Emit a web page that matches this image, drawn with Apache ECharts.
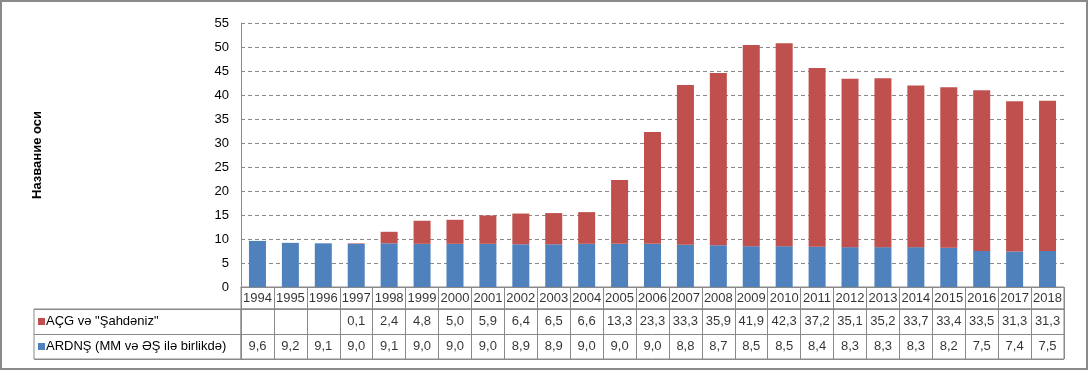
<!DOCTYPE html>
<html>
<head>
<meta charset="utf-8">
<script src="https://cdn.jsdelivr.net/npm/echarts@6/dist/echarts.min.js"></script>
<style>
html,body{margin:0;padding:0;background:#fff;}
#wrap{position:relative;width:1088px;height:371px;}
#chart{position:absolute;left:0;top:0;width:1088px;height:371px;}
#frame{position:absolute;left:0;top:0;width:1088px;height:370px;box-sizing:border-box;border:2px solid #898989;pointer-events:none;}
</style>
</head>
<body>
<div id="wrap"><div id="chart"></div><div id="frame"></div></div>
<script>
const years = ['1994','1995','1996','1997','1998','1999','2000','2001','2002','2003','2004','2005','2006','2007','2008','2009','2010','2011','2012','2013','2014','2015','2016','2017','2018'];
const acgValues = [null,null,null,0.1,2.4,4.8,5.0,5.9,6.4,6.5,6.6,13.3,23.3,33.3,35.9,41.9,42.3,37.2,35.1,35.2,33.7,33.4,33.5,31.3,31.3];
const ardnsValues = [9.6,9.2,9.1,9.0,9.1,9.0,9.0,9.0,8.9,8.9,9.0,9.0,9.0,8.8,8.7,8.5,8.5,8.4,8.3,8.3,8.3,8.2,7.5,7.4,7.5];
const acgName = 'AÇG və "Şahdəniz"';
const ardnsName = 'ARDNŞ (MM və ƏŞ ilə birlikdə)';
const yMin = 0, yMax = 55, yStep = 5;
const axisTitle = 'Название оси';

const BLUE = '#4F81BD', RED = '#C0504D', GRAY = '#898989';
const FONT = 'Liberation Sans';
const fmt = v => (v == null ? '' : v.toFixed(1).replace('.', ','));

const yearCells = years.map((y, i) => ({ value: [i, 'year'], txt: y }));
const valueCells = [];
years.forEach((y, i) => {
  valueCells.push({ value: [i, 'acg'], txt: fmt(acgValues[i]) });
  valueCells.push({ value: [i, 'ardns'], txt: fmt(ardnsValues[i]) });
});

const tableGrid = (extra) => Object.assign({ show: true, borderColor: GRAY, borderWidth: 1, outerBoundsMode: 'none', containLabel: false }, extra);
const colAxis = (gi) => ({ gridIndex: gi, type: 'category', data: years, axisLine: { show: false }, axisTick: { show: false, interval: 0 }, axisLabel: { show: false, interval: 0 }, splitLine: { show: true, interval: 0, lineStyle: { color: GRAY, width: 1 } } });
const cellLabel = { show: true, position: 'inside', color: '#000', fontSize: 13, fontFamily: FONT, formatter: p => p.data.txt };

const chart = echarts.init(document.getElementById('chart'), null, { renderer: 'canvas' });
chart.setOption({
  animation: false,
  textStyle: { fontFamily: FONT },
  grid: [
    { left: 241, right: 24, top: 23, height: 264, outerBoundsMode: 'none', containLabel: false },
    tableGrid({ left: 241, right: 24, top: 287, height: 22 }),
    tableGrid({ left: 241, right: 24, top: 309, height: 50 }),
    tableGrid({ left: 34, width: 207, top: 309, height: 50 })
  ],
  xAxis: [
    { gridIndex: 0, type: 'category', data: years, axisLine: { show: true, lineStyle: { color: GRAY } }, axisTick: { show: false }, axisLabel: { show: false }, splitLine: { show: false } },
    colAxis(1),
    colAxis(2),
    { gridIndex: 3, type: 'value', show: false, splitLine: { show: false } }
  ],
  yAxis: [
    { gridIndex: 0, type: 'value', min: yMin, max: yMax, interval: yStep,
      axisLine: { show: true, lineStyle: { color: GRAY } }, axisTick: { show: false },
      axisLabel: { color: '#000', fontSize: 13, margin: 12, fontFamily: FONT },
      splitLine: { show: true, lineStyle: { color: GRAY, type: [4, 3], width: 1 } },
      name: axisTitle, nameLocation: 'middle', nameGap: 197,
      nameTextStyle: { color: '#000', fontSize: 13, fontWeight: 'bold', fontFamily: FONT } },
    { gridIndex: 1, type: 'category', data: ['year'], axisLine: { show: false }, axisTick: { show: false }, axisLabel: { show: false }, splitLine: { show: false } },
    { gridIndex: 2, type: 'category', data: ['acg', 'ardns'], inverse: true, axisLine: { show: false }, axisTick: { show: false }, axisLabel: { show: false }, splitLine: { show: true, interval: 0, lineStyle: { color: GRAY, width: 1 } } },
    { gridIndex: 3, type: 'category', data: [acgName, ardnsName], inverse: true, axisLine: { show: false }, axisTick: { show: false },
      splitLine: { show: true, interval: 0, lineStyle: { color: GRAY, width: 1 } },
      axisLabel: { inside: true, interval: 0, margin: 4, align: 'left',
        formatter: (v, i) => (i === 0 ? '{r|}' : '{b|}') + '{t|' + v + '}',
        rich: {
          r: { width: 7, height: 7, backgroundColor: RED },
          b: { width: 7, height: 7, backgroundColor: BLUE },
          t: { fontSize: 13, color: '#000', fontFamily: FONT, padding: [0, 0, 0, 1] }
        } } }
  ],
  series: [
    { name: ardnsName, type: 'bar', stack: 'total', xAxisIndex: 0, yAxisIndex: 0, data: ardnsValues, barWidth: 17, itemStyle: { color: BLUE } },
    { name: acgName, type: 'bar', stack: 'total', xAxisIndex: 0, yAxisIndex: 0, data: acgValues, barWidth: 17, itemStyle: { color: RED } },
    { type: 'scatter', xAxisIndex: 1, yAxisIndex: 1, symbolSize: 0, data: yearCells, silent: true, label: cellLabel },
    { type: 'scatter', xAxisIndex: 2, yAxisIndex: 2, symbolSize: 0, data: valueCells, silent: true, label: cellLabel }
  ]
});
</script>
</body>
</html>
